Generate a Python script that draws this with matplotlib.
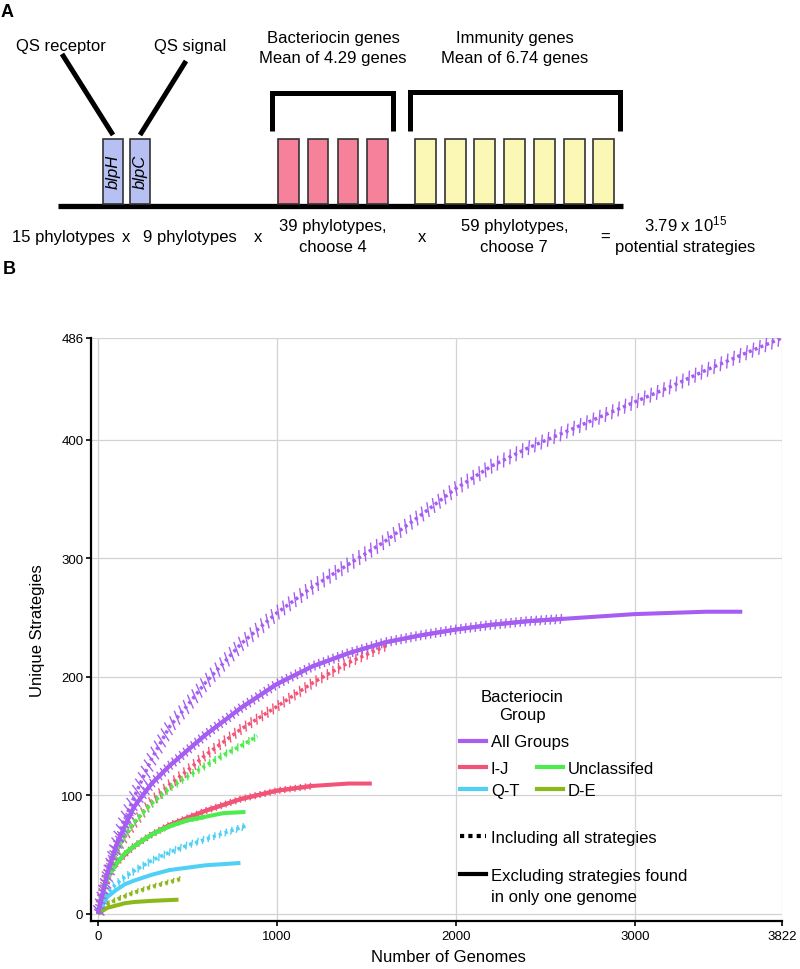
import matplotlib
matplotlib.use("Agg")
import matplotlib.pyplot as plt
import matplotlib.patheffects as pe
from matplotlib.lines import Line2D
from matplotlib.patches import Rectangle

plt.rcParams["font.family"] = ["Liberation Sans", "DejaVu Sans"]
plt.rcParams["mathtext.fontset"] = "custom"
plt.rcParams["mathtext.rm"] = "Liberation Sans"
plt.rcParams["mathtext.it"] = "Liberation Sans:italic"

# ---- panel A: gene cassette ----
N_BACTERIOCIN = 4
N_IMMUNITY = 7
QS_GENES = ["blpH", "blpC"]

# ---- panel B: rarefaction curves ----
all_incl_x = [0, 50, 100, 150, 200, 300, 400, 500, 600, 800, 1000, 1200, 1400,
              1600, 1800, 2000, 2200, 2400, 2600, 2800, 3000, 3200, 3400, 3600, 3822]
all_incl_y = [0, 30, 58, 80, 98, 131, 158, 176, 195, 228, 254, 276, 295,
              314, 336, 359, 378, 393, 406, 419, 432, 445, 459, 472, 486]
all_excl_x = [0, 50, 100, 150, 200, 300, 400, 500, 600, 800, 1000, 1200, 1400,
              1600, 1800, 2000, 2200, 2400, 2600, 2800, 3000, 3200, 3400, 3600]
all_excl_y = [0, 33, 57, 74, 90, 110, 125, 138, 151, 174, 194, 209, 220,
              229, 235, 240, 244, 247, 249, 251, 253, 254, 255, 255]

ij_incl_x = [0, 50, 100, 150, 200, 300, 400, 500, 600, 800, 1000, 1200, 1400, 1620]
ij_incl_y = [0, 33, 52, 65, 76, 95, 109, 121, 134, 156, 175, 195, 212, 227]
ij_excl_x = [0, 50, 100, 150, 200, 300, 400, 500, 600, 800, 1000, 1200, 1400, 1530]
ij_excl_y = [0, 31, 42, 50, 57, 67, 75, 81, 87, 97, 104, 108, 110, 110]

uncl_incl_x = [0, 50, 100, 150, 200, 300, 400, 500, 600, 700, 800, 890]
uncl_incl_y = [0, 33, 52, 66, 77, 93, 106, 116, 125, 134, 142, 150]
uncl_excl_x = [0, 50, 100, 150, 200, 300, 400, 500, 600, 700, 824]
uncl_excl_y = [0, 30, 42, 51, 57, 67, 74, 79, 82, 85, 86]

qt_incl_x = [0, 50, 100, 150, 200, 300, 400, 500, 600, 700, 824]
qt_incl_y = [0, 17, 25, 31, 36, 45, 52, 58, 63, 68, 74]
qt_excl_x = [0, 50, 100, 150, 200, 300, 400, 500, 600, 700, 796]
qt_excl_y = [0, 14, 20, 25, 28, 33, 37, 39, 41, 42, 43]

de_incl_x = [0, 50, 100, 150, 200, 300, 400, 470]
de_incl_y = [0, 8, 12, 15, 18, 23, 27, 30]
de_excl_x = [0, 50, 100, 150, 200, 300, 450]
de_excl_y = [0, 5, 7, 9, 10, 11, 12]

C_ALL = "#a65ef2"
C_IJ = "#f25478"
C_UNCL = "#4deb4d"
C_QT = "#4fd0f5"
C_DE = "#8cb81a"

X_TICKS = [0, 1000, 2000, 3000, 3822]
Y_TICKS = [0, 100, 200, 300, 400, 486]

W, H = 800, 970
fig = plt.figure(figsize=(W / 100, H / 100), dpi=100)


def fx(px):
    return px / W


def fy(py):
    return 1 - py / H


# ================= panel A =================
axa = fig.add_axes([0, fy(260), 1, 260 / H])
axa.set_xlim(0, W)
axa.set_ylim(260, 0)
axa.axis("off")

axa.plot([58, 623], [207, 207], color="black", lw=3.8, solid_capstyle="butt", zorder=1)

for i, g in enumerate(QS_GENES):
    x0 = 103 + i * 27
    axa.add_patch(Rectangle((x0, 140), 20, 65, facecolor="#b6c0f2",
                            edgecolor="#333333", lw=1.2, zorder=2))
    axa.text(x0 + 10, 172, g, rotation=90, ha="center", va="center",
             fontsize=12, style="italic")

for i in range(N_BACTERIOCIN):
    axa.add_patch(Rectangle((278 + i * 29.8, 140), 20.5, 65, facecolor="#f6819a",
                            edgecolor="#333333", lw=1.2, zorder=2))
for i in range(N_IMMUNITY):
    axa.add_patch(Rectangle((415 + i * 29.7, 140), 21, 65, facecolor="#fbf8b6",
                            edgecolor="#333333", lw=1.2, zorder=2))

# pointer lines and brackets
axa.plot([62, 113], [55, 136], color="black", lw=3.6, solid_capstyle="butt")
axa.plot([186, 140], [62, 136], color="black", lw=3.6, solid_capstyle="butt")
axa.plot([272, 272, 393, 393], [132, 94, 94, 132], color="black", lw=3.6,
         solid_joinstyle="miter", solid_capstyle="butt")
axa.plot([410, 410, 620, 620], [132, 93, 93, 132], color="black", lw=3.6,
         solid_joinstyle="miter", solid_capstyle="butt")

fs = 12
axa.text(61, 47, "QS receptor", ha="center", va="center", fontsize=fs)
axa.text(190, 47, "QS signal", ha="center", va="center", fontsize=fs)
axa.text(333, 38, "Bacteriocin genes", ha="center", va="center", fontsize=fs)
axa.text(333, 58, "Mean of 4.29 genes", ha="center", va="center", fontsize=fs)
axa.text(515, 38, "Immunity genes", ha="center", va="center", fontsize=fs)
axa.text(515, 58, "Mean of 6.74 genes", ha="center", va="center", fontsize=fs)

axa.text(12, 242, "15 phylotypes", ha="left", va="baseline", fontsize=fs)
axa.text(126, 242, "x", ha="center", va="baseline", fontsize=fs)
axa.text(143, 242, "9 phylotypes", ha="left", va="baseline", fontsize=fs)
axa.text(258, 242, "x", ha="center", va="baseline", fontsize=fs)
axa.text(333, 231, "39 phylotypes,", ha="center", va="baseline", fontsize=fs)
axa.text(333, 252, "choose 4", ha="center", va="baseline", fontsize=fs)
axa.text(422, 242, "x", ha="center", va="baseline", fontsize=fs)
axa.text(515, 231, "59 phylotypes,", ha="center", va="baseline", fontsize=fs)
axa.text(514, 252, "choose 7", ha="center", va="baseline", fontsize=fs)
axa.text(605, 242, "=", ha="center", va="baseline", fontsize=fs)
axa.text(686, 231, "3.79 x $10^{15}$", ha="center", va="baseline", fontsize=fs)
axa.text(685, 252, "potential strategies", ha="center", va="baseline", fontsize=fs)

fig.text(fx(1), fy(17), "A", fontsize=13, fontweight="bold", ha="left", va="baseline")
fig.text(fx(3), fy(274), "B", fontsize=13, fontweight="bold", ha="left", va="baseline")

# ================= panel B =================
ax = fig.add_axes([fx(91), fy(922), (782 - 91) / W, (922 - 339) / H])
ax.set_xlim(-39, 3822)
ax.set_ylim(-6, 486)
ax.set_xticks(X_TICKS)
ax.set_yticks(Y_TICKS)
ax.grid(True, color="#d3d3d3", lw=0.9)
ax.set_axisbelow(True)
for s in ["top", "right"]:
    ax.spines[s].set_visible(False)
for s in ["left", "bottom"]:
    ax.spines[s].set_linewidth(1.6)
ax.tick_params(length=3.5, width=1.2, labelsize=9.5, direction="out")
ax.tick_params(axis="y", pad=2)
ax.tick_params(axis="x", pad=3)


def err_ticks(color, half_px, angle, sp=4.0):
    # dense, near-vertical error bars drawn along the curve
    ln = half_px * 0.72 / sp
    kw = dict(linewidth=1.0, foreground=color,
              dashes={"dash_offset": 0, "dash_list": None})
    return [pe.TickedStroke(spacing=sp, angle=angle, length=ln, **kw),
            pe.TickedStroke(spacing=sp, angle=angle - 180, length=ln, **kw),
            pe.Normal()]


DOT = (0, (0.9, 0.9))

dotted = [
    (ij_incl_x, ij_incl_y, C_IJ, 5.5, 4.6),
    (uncl_incl_x, uncl_incl_y, C_UNCL, 4, 4.6),
    (qt_incl_x, qt_incl_y, C_QT, 4, 4.2),
    (de_incl_x, de_incl_y, C_DE, 3, 4.2),
    (all_incl_x, all_incl_y, C_ALL, 7.5, 5.0),
]
for x, y, c, h, sp in dotted:
    ax.plot(x, y, color=c, lw=2.5, linestyle=DOT, dash_capstyle="butt",
            path_effects=err_ticks(c, h, 62, sp))

solid = [
    (ij_excl_x, ij_excl_y, C_IJ, 3.5, 1200),
    (uncl_excl_x, uncl_excl_y, C_UNCL, 2.5, 600),
    (qt_excl_x, qt_excl_y, C_QT, 0, 0),
    (de_excl_x, de_excl_y, C_DE, 0, 0),
    (all_excl_x, all_excl_y, C_ALL, 5, 2600),
]
for x, y, c, h, lim in solid:
    ax.plot(x, y, color=c, lw=2.9, solid_capstyle="butt")
    if h > 0:
        k = sum(1 for v in x if v <= lim)
        ax.plot(x[:k], y[:k], color=c, lw=2.9, solid_capstyle="butt",
                path_effects=err_ticks(c, h, 78, 3.6))

ax.set_xlabel("Number of Genomes", fontsize=12)
ax.xaxis.set_label_coords((448 - 91) / 691, -(958 - 922) / 583)
ax.xaxis.label.set_verticalalignment("center")
ax.set_ylabel("Unique Strategies", fontsize=12)
ax.yaxis.set_label_coords((38 - 91) / 691, 0.5)
ax.yaxis.label.set_verticalalignment("center")

# ---- legends ----
leg_kw = dict(loc="center left", bbox_transform=fig.transFigure, frameon=False,
              borderpad=0, borderaxespad=0, handlelength=1.56, handletextpad=0.3,
              fontsize=12)
fig.text(fx(522), fy(707), "Bacteriocin\nGroup", ha="center", va="center",
         fontsize=12, linespacing=1.25)

leg1 = ax.legend([Line2D([], [], color=C_ALL, lw=3)], ["All Groups"],
                 bbox_to_anchor=(fx(460), fy(743)), **leg_kw)
ax.add_artist(leg1)

leg2 = ax.legend([Line2D([], [], color=c, lw=3) for c in [C_IJ, C_QT, C_UNCL, C_DE]],
                 ["I-J", "Q-T", "Unclassifed", "D-E"], ncol=2,
                 labelspacing=0.39, columnspacing=1.04,
                 bbox_to_anchor=(fx(460), fy(780.5)), **leg_kw)
ax.add_artist(leg2)

ax.legend([Line2D([], [], color="black", lw=3, linestyle=(0, (1, 1)), dash_capstyle="butt"),
           Line2D([], [], color="black", lw=3)],
          ["Including all strategies", "Excluding strategies found"],
          labelspacing=1.35, bbox_to_anchor=(fx(460), fy(857.5)), **leg_kw)
fig.text(fx(491), fy(898), "in only one genome", ha="left", va="center", fontsize=12)

fig.savefig("out.png", dpi=100)
